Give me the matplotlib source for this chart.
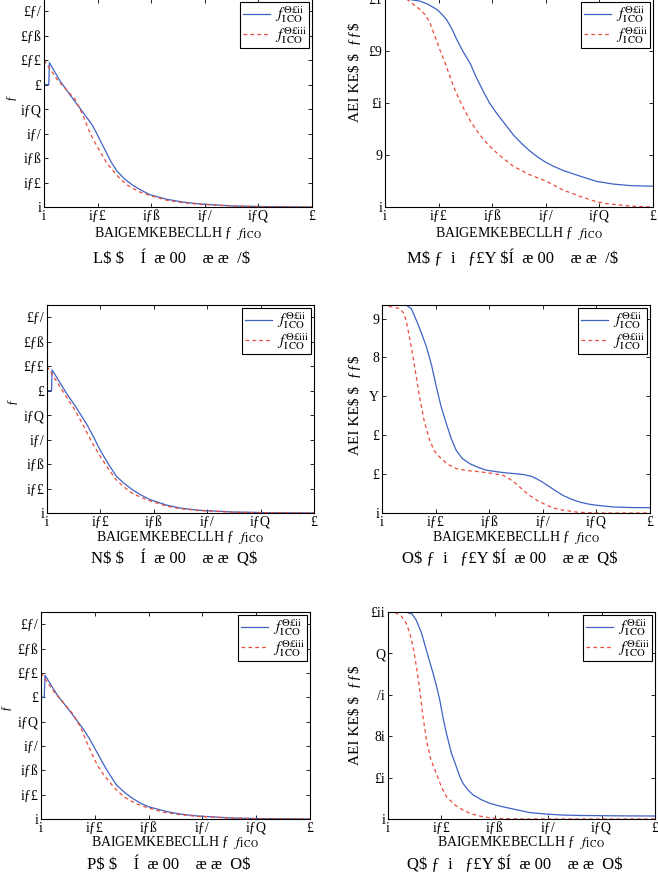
import matplotlib
matplotlib.use("Agg")
import matplotlib.pyplot as plt

plt.rcParams['font.family'] = ['Liberation Serif', 'DejaVu Serif']
plt.rcParams['mathtext.fontset'] = 'stix'

W, H = 658, 888

# tick values and their (garbled) labels as they appear in the picture
x_ticks = [0, 0.2, 0.4, 0.6, 0.8, 1.0]
x_ticklabels = ["i", "iƒ£", "iƒß", "iƒ/", "iƒQ", "£"]
left_yticks = [0, 0.2, 0.4, 0.6, 0.8, 1.0, 1.2, 1.4, 1.6]
left_yticklabels = ["i", "iƒ£", "iƒß", "iƒ/", "iƒQ", "£", "£ƒ£", "£ƒß", "£ƒ/"]
b_yticks = [0, 5, 10, 15, 20]
b_yticklabels = ["i", "9", "£i", "£9", "£1"]
d_yticks = [0, 1, 2, 3, 4, 5]
d_yticklabels = ["i", "£", "£", "Y", "8", "9"]
f_yticks = [0, 20, 40, 60, 80, 100]
f_yticklabels = ["i", "£i", "8i", "/i", "Q", "£ii"]

xlabel = r"BAIGEMKEBECLLH ƒ  $f_{\mathrm{I\,CO}}$"
left_ylabel = "ƒ"
right_ylabel = r"AEI KE\$ \$  ƒƒ\$"
legend_labels = [r"$f_{\mathrm{I\,CO}}^{\Theta\mathrm{£ii}}$",
                 r"$f_{\mathrm{I\,CO}}^{\Theta\mathrm{£iii}}$"]
titles = [r"L\$ \$    Í  æ 00    æ æ  /\$",
          r"M\$ ƒ  i   ƒ£Y \$Í  æ 00    æ æ  /\$",
          r"N\$ \$    Í  æ 00    æ æ  Q\$",
          r"O\$ ƒ  i   ƒ£Y \$Í  æ 00    æ æ  Q\$",
          r"P\$ \$    Í  æ 00    æ æ  O\$",
          r"Q\$ ƒ  i   ƒ£Y \$Í  æ 00    æ æ  O\$"]

# panel (a)
a_blue_x = [0, 0.018, 0.02, 0.06, 0.116, 0.14, 0.16, 0.18, 0.197, 0.215, 0.234, 0.25, 0.27, 0.3, 0.333, 0.36, 0.396, 0.458, 0.52, 0.58, 0.71, 0.83, 1.0]
a_blue_y = [1.0, 1.0, 1.18, 1.03, 0.86, 0.79, 0.73, 0.67, 0.60, 0.52, 0.44, 0.37, 0.30, 0.23, 0.175, 0.14, 0.10, 0.063, 0.04, 0.025, 0.008, 0.003, 0.0]
a_red_x = [0, 0.05, 0.116, 0.13, 0.147, 0.165, 0.184, 0.21, 0.234, 0.26, 0.284, 0.31, 0.333, 0.36, 0.396, 0.458, 0.52, 0.58, 0.71, 0.83, 1.0]
a_red_y = [1.2, 1.04, 0.88, 0.82, 0.74, 0.64, 0.55, 0.45, 0.36, 0.29, 0.23, 0.18, 0.15, 0.12, 0.094, 0.055, 0.035, 0.022, 0.007, 0.002, 0.0]
# panel (c)
c_blue_x = [0, 0.017, 0.019, 0.0725, 0.11, 0.1475, 0.175, 0.1975, 0.23, 0.26, 0.29, 0.32, 0.35, 0.385, 0.45, 0.5, 0.57, 0.7, 0.85, 1.0]
c_blue_y = [1.0, 1.0, 1.17, 0.98, 0.86, 0.73, 0.62, 0.52, 0.40, 0.30, 0.24, 0.19, 0.15, 0.11, 0.063, 0.04, 0.022, 0.008, 0.002, 0.0]
c_red_x = [0, 0.0725, 0.105, 0.135, 0.165, 0.1975, 0.23, 0.26, 0.29, 0.32, 0.35, 0.385, 0.45, 0.5, 0.57, 0.7, 0.85, 1.0]
c_red_y = [1.2, 0.95, 0.84, 0.72, 0.59, 0.47, 0.36, 0.27, 0.21, 0.16, 0.13, 0.10, 0.055, 0.035, 0.02, 0.006, 0.002, 0.0]
# panel (e)
e_blue_x = [0, 0.012, 0.015, 0.06, 0.116, 0.14, 0.16, 0.18, 0.2, 0.22, 0.24, 0.26, 0.28, 0.31, 0.34, 0.37, 0.4, 0.47, 0.52, 0.58, 0.71, 0.83, 1.0]
e_blue_y = [1.0, 1.0, 1.18, 1.02, 0.86, 0.79, 0.73, 0.66, 0.58, 0.50, 0.42, 0.35, 0.28, 0.22, 0.17, 0.13, 0.10, 0.06, 0.04, 0.025, 0.008, 0.003, 0.0]
e_red_x = [0, 0.05, 0.116, 0.13, 0.15, 0.17, 0.19, 0.21, 0.234, 0.26, 0.284, 0.31, 0.333, 0.36, 0.396, 0.458, 0.52, 0.58, 0.71, 0.83, 1.0]
e_red_y = [1.2, 1.04, 0.87, 0.82, 0.74, 0.63, 0.53, 0.44, 0.36, 0.29, 0.23, 0.18, 0.15, 0.12, 0.093, 0.055, 0.035, 0.022, 0.007, 0.002, 0.0]
# panel (b)
b_blue_x = [0, 0.08, 0.13, 0.16, 0.193, 0.21, 0.23, 0.25, 0.268, 0.29, 0.318, 0.34, 0.367, 0.39, 0.417, 0.45, 0.48, 0.51, 0.54, 0.57, 0.6, 0.63, 0.666, 0.73, 0.79, 0.853, 0.92, 1.0]
b_blue_y = [20, 20, 19.8, 19.5, 19.0, 18.6, 18.0, 17.1, 16.1, 15.0, 13.8, 12.5, 11.1, 10.0, 9.0, 7.9, 6.9, 6.1, 5.4, 4.8, 4.3, 3.9, 3.5, 2.95, 2.46, 2.2, 2.05, 2.0]
b_red_x = [0, 0.08, 0.13, 0.15, 0.168, 0.185, 0.205, 0.225, 0.243, 0.265, 0.293, 0.32, 0.355, 0.385, 0.417, 0.45, 0.48, 0.51, 0.54, 0.57, 0.6, 0.63, 0.666, 0.7, 0.73, 0.76, 0.79, 0.82, 0.853, 0.92, 1.0]
b_red_y = [20, 20, 19.0, 18.5, 17.7, 16.5, 15.1, 13.8, 12.5, 11.0, 9.5, 8.2, 6.9, 6.0, 5.2, 4.5, 3.9, 3.5, 3.1, 2.8, 2.5, 2.1, 1.6, 1.3, 1.0, 0.75, 0.5, 0.35, 0.25, 0.08, 0.0]
# panel (d)
d_blue_x = [0, 0.09, 0.11, 0.128, 0.146, 0.166, 0.185, 0.203, 0.22, 0.24, 0.258, 0.277, 0.3, 0.327, 0.36, 0.39, 0.43, 0.464, 0.5, 0.527, 0.555, 0.577, 0.6, 0.626, 0.65, 0.676, 0.705, 0.738, 0.77, 0.8, 0.863, 0.93, 1.0]
d_blue_y = [5.35, 5.35, 5.25, 4.96, 4.65, 4.27, 3.8, 3.24, 2.75, 2.3, 1.92, 1.61, 1.4, 1.27, 1.17, 1.10, 1.06, 1.03, 1.01, 0.99, 0.95, 0.88, 0.79, 0.67, 0.56, 0.45, 0.36, 0.28, 0.23, 0.2, 0.155, 0.14, 0.137]
d_red_x = [0, 0.066, 0.08, 0.09, 0.103, 0.116, 0.128, 0.14, 0.158, 0.178, 0.195, 0.215, 0.245, 0.277, 0.32, 0.365, 0.41, 0.452, 0.475, 0.5, 0.525, 0.55, 0.58, 0.614, 0.645, 0.676, 0.73, 0.8, 1.0]
d_red_y = [5.35, 5.26, 5.15, 4.96, 4.5, 4.0, 3.5, 2.99, 2.35, 1.87, 1.6, 1.44, 1.25, 1.14, 1.09, 1.06, 1.02, 0.97, 0.88, 0.755, 0.6, 0.455, 0.32, 0.2, 0.12, 0.07, 0.02, 0.0, 0.0]
# panel (f)
f_blue_x = [0, 0.069, 0.09, 0.106, 0.125, 0.144, 0.156, 0.169, 0.182, 0.194, 0.206, 0.219, 0.237, 0.256, 0.268, 0.281, 0.3, 0.319, 0.35, 0.381, 0.42, 0.469, 0.531, 0.6, 0.656, 0.72, 0.8, 0.9, 1.0]
f_blue_y = [100, 100, 99, 96, 90, 81.5, 76, 70.3, 64, 57.4, 49, 41.3, 32, 25.2, 20.8, 17.2, 14, 11.6, 9.3, 7.6, 6.2, 4.8, 3.1, 2.3, 1.9, 1.7, 1.6, 1.5, 1.45]
f_red_x = [0, 0.031, 0.05, 0.069, 0.082, 0.094, 0.106, 0.119, 0.131, 0.144, 0.16, 0.181, 0.2, 0.219, 0.25, 0.281, 0.31, 0.344, 0.375, 0.406, 0.45, 0.5, 1.0]
f_red_y = [100, 99.5, 98, 94.4, 89.5, 83, 74, 62.2, 49.5, 38.1, 29, 22, 15.5, 10.8, 6.8, 4.3, 2.6, 1.4, 0.7, 0.3, 0.1, 0.0, 0.0]

BLUE = "#3f62c4"
RED = "#ec4c3c"

# (left, right, top, bottom) in pixels, y from top
boxes = [(44, 312, -1, 207), (385, 653, -1, 207),
         (47, 314, 305, 513), (382, 650, 305, 513),
         (41, 310, 612, 819), (388, 655, 612, 819)]
label_y = [(233, 259), (233, 259), (537, 559), (537, 559), (842, 865), (842, 865)]
# y-label position: (x pixel, fraction of axes height)
ylabel_pos = [(17, 0.53), (362, 0.65), (18, 0.54), (362, 0.52), (12, 0.54), (362, 0.5)]

panels = [
    (a_blue_x, a_blue_y, a_red_x, a_red_y, 1.7, left_yticks, left_yticklabels, left_ylabel),
    (b_blue_x, b_blue_y, b_red_x, b_red_y, 20, b_yticks, b_yticklabels, right_ylabel),
    (c_blue_x, c_blue_y, c_red_x, c_red_y, 1.7, left_yticks, left_yticklabels, left_ylabel),
    (d_blue_x, d_blue_y, d_red_x, d_red_y, 5.35, d_yticks, d_yticklabels, right_ylabel),
    (e_blue_x, e_blue_y, e_red_x, e_red_y, 1.7, left_yticks, left_yticklabels, left_ylabel),
    (f_blue_x, f_blue_y, f_red_x, f_red_y, 100, f_yticks, f_yticklabels, right_ylabel),
]

fig = plt.figure(figsize=(W / 100, H / 100), dpi=100)

for i, (bx, by, rx, ry, ytop, yt, ytl, ylab) in enumerate(panels):
    l, r, t, b = boxes[i]
    ax = fig.add_axes([l / W, 1 - b / H, (r - l) / W, (b - t) / H])
    ax.plot(bx, by, color=BLUE, lw=0.9, label=legend_labels[0])
    ax.plot(rx, ry, color=RED, lw=0.9, ls=(0, (3, 2.5)), label=legend_labels[1])
    ax.set_xlim(0, 1)
    ax.set_ylim(0, ytop)
    ax.set_xticks(x_ticks)
    ax.set_xticklabels(x_ticklabels, fontsize=10)
    ax.set_yticks(yt)
    ax.set_yticklabels(ytl, fontsize=10)
    ax.tick_params(direction='in', top=True, right=True, length=3, width=0.6, pad=2)
    for s in ax.spines.values():
        s.set_linewidth(0.8)
    ax.set_ylabel(ylab, fontsize=11 if i % 2 else 9)
    lx, ly = ylabel_pos[i]
    ax.yaxis.set_label_coords((lx - l) / (r - l), ly)
    leg = ax.legend(loc='upper right', fontsize=11, fancybox=False, framealpha=1,
                    borderaxespad=0.2, handlelength=1.8, borderpad=0.15,
                    labelspacing=0.0, handletextpad=0.3)
    leg.get_frame().set_edgecolor('black')
    leg.get_frame().set_linewidth(0.8)
    xc = (l + r) / 2 / W
    fig.text(xc, 1 - label_y[i][0] / H, xlabel, ha='center', va='center', fontsize=10)
    fig.text(xc - 0.01, 1 - label_y[i][1] / H, titles[i], ha='center', va='center', fontsize=12)

fig.savefig("out.png", dpi=100)
